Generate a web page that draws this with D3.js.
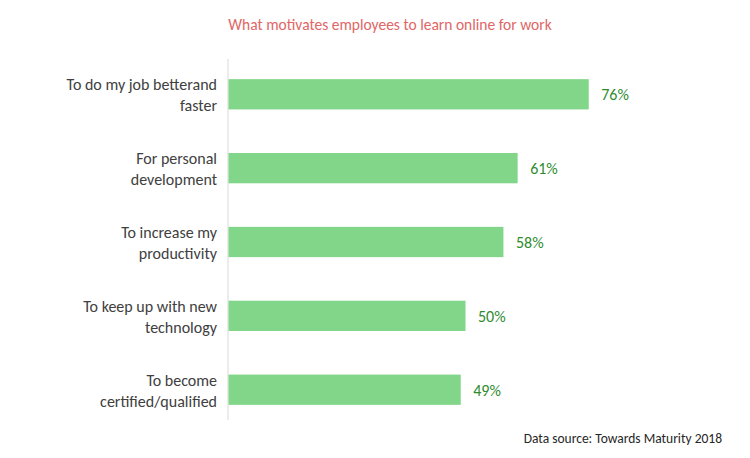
<!DOCTYPE html>
<html><head><meta charset="utf-8">
<script src="https://cdn.jsdelivr.net/npm/d3@7"></script>
<style>body{margin:0;background:#fff;font-family:Calibri,Carlito,Lato,sans-serif}</style>
</head><body>
<svg id="chart" width="750" height="458"></svg>
<script>
// data
var categories = [["To do my job betterand", "faster"], ["For personal", "development"], ["To increase my", "productivity"], ["To keep up with new", "technology"], ["To become", "certified/qualified"]];
var values = [76, 61, 58, 50, 49];
var valueLabels = ["76%", "61%", "58%", "50%", "49%"];

var svg = d3.select("#chart");
var left = 228;

var x = d3.scaleLinear().domain([0, 100]).range([left, 702]);
var y = d3.scaleBand().domain(d3.range(values.length)).range([57, 427]).paddingInner(0.59).paddingOuter(0.3);

// title
svg.append("text").attr("x", 390).attr("y", 30).attr("text-anchor", "middle")
  .style("font-size", "15.5px").style("fill", "#e06666")
  .text("What motivates employees to learn online for work");

// axis line
svg.append("line").attr("x1", left).attr("x2", left).attr("y1", 59).attr("y2", 420)
  .attr("stroke", "#d9d9d9");

// bars
svg.selectAll("rect.bar").data(values).enter().append("rect")
  .attr("class", "bar")
  .attr("x", left + 0.5)
  .attr("y", function(d, i) { return y(i); })
  .attr("width", function(d) { return x(d) - left; })
  .attr("height", y.bandwidth())
  .attr("fill", "#82d68a");

// value labels
svg.selectAll("text.val").data(values).enter().append("text")
  .attr("class", "val")
  .attr("x", function(d) { return x(d) + 13; })
  .attr("y", function(d, i) { return y(i) + y.bandwidth() / 2 + 6; })
  .style("font-size", "16px").style("fill", "#2e8b2e")
  .text(function(d, i) { return valueLabels[i]; });

// category labels
var cat = svg.selectAll("text.cat").data(categories).enter().append("text")
  .attr("class", "cat")
  .attr("text-anchor", "end")
  .style("font-size", "16px").style("fill", "#404040");
cat.each(function(lines, i) {
  var cy = y(i) + y.bandwidth() / 2;
  d3.select(this).selectAll("tspan").data(lines).enter().append("tspan")
    .attr("x", 217)
    .attr("y", function(l, j) { return cy - 4 + j * 21; })
    .text(function(l) { return l; });
});

// source
svg.append("text").attr("x", 722).attr("y", 443).attr("text-anchor", "end")
  .style("font-size", "13.5px").style("fill", "#262626")
  .text("Data source: Towards Maturity 2018");
</script>
</body></html>
